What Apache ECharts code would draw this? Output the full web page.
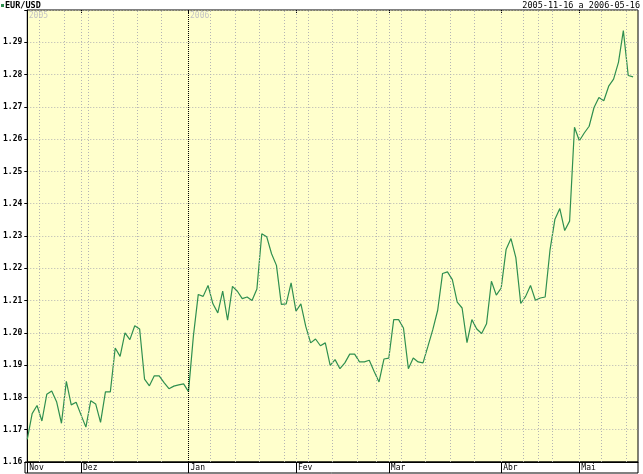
<!DOCTYPE html>
<html><head><meta charset="utf-8">
<script src="https://cdn.jsdelivr.net/npm/echarts@6/dist/echarts.min.js"></script>
<style>html,body{margin:0;padding:0;background:#fff}#c{width:643px;height:474px}</style>
</head><body><div id="c"></div>
<script>
const seriesName = 'EUR/USD';
const rangeText = '2005-11-16 a 2006-05-16';
const dates = [
'2005-11-16','2005-11-17','2005-11-18','2005-11-21','2005-11-22','2005-11-23','2005-11-24','2005-11-25','2005-11-28','2005-11-29','2005-11-30',
'2005-12-01','2005-12-02','2005-12-05','2005-12-06','2005-12-07','2005-12-08','2005-12-09','2005-12-12','2005-12-13','2005-12-14','2005-12-15','2005-12-16','2005-12-19','2005-12-20','2005-12-21','2005-12-22','2005-12-23','2005-12-26','2005-12-27','2005-12-28','2005-12-29','2005-12-30',
'2006-01-02','2006-01-03','2006-01-04','2006-01-05','2006-01-06','2006-01-09','2006-01-10','2006-01-11','2006-01-12','2006-01-13','2006-01-16','2006-01-17','2006-01-18','2006-01-19','2006-01-20','2006-01-23','2006-01-24','2006-01-25','2006-01-26','2006-01-27','2006-01-30','2006-01-31',
'2006-02-01','2006-02-02','2006-02-03','2006-02-06','2006-02-07','2006-02-08','2006-02-09','2006-02-10','2006-02-13','2006-02-14','2006-02-15','2006-02-16','2006-02-17','2006-02-21','2006-02-22','2006-02-23','2006-02-24','2006-02-27','2006-02-28',
'2006-03-01','2006-03-02','2006-03-03','2006-03-06','2006-03-07','2006-03-08','2006-03-09','2006-03-10','2006-03-13','2006-03-14','2006-03-15','2006-03-16','2006-03-17','2006-03-20','2006-03-21','2006-03-22','2006-03-23','2006-03-24','2006-03-27','2006-03-28','2006-03-29','2006-03-30','2006-03-31',
'2006-04-03','2006-04-04','2006-04-05','2006-04-06','2006-04-07','2006-04-10','2006-04-11','2006-04-12','2006-04-18','2006-04-19','2006-04-20','2006-04-24','2006-04-25','2006-04-26','2006-04-27','2006-04-28',
'2006-05-01','2006-05-02','2006-05-03','2006-05-04','2006-05-05','2006-05-08','2006-05-09','2006-05-10','2006-05-11','2006-05-12','2006-05-15','2006-05-16'
];
const rates = [
1.1670,1.1750,1.1775,1.1727,1.1810,1.1820,1.1787,1.1720,1.1850,1.1777,1.1785,
1.1746,1.1708,1.1790,1.1780,1.1723,1.1817,1.1817,1.1953,1.1927,1.2000,1.1979,1.2022,1.2012,1.1857,1.1836,1.1867,1.1867,1.1846,1.1827,1.1835,1.1839,1.1842,
1.1818,1.1990,1.2119,1.2113,1.2147,1.2090,1.2062,1.2129,1.2039,1.2144,1.2129,1.2106,1.2111,1.2100,1.2136,1.2307,1.2298,1.2245,1.2209,1.2088,1.2090,1.2155,
1.2067,1.2090,1.2020,1.1969,1.1981,1.1960,1.1969,1.1899,1.1917,1.1889,1.1907,1.1934,1.1934,1.1910,1.1910,1.1915,1.1880,1.1848,1.1919,
1.1922,1.2041,1.2041,1.2015,1.1889,1.1922,1.1910,1.1907,1.1958,1.2010,1.2070,1.2184,1.2189,1.2165,1.2095,1.2077,1.1970,1.2041,1.2012,1.1998,1.2028,1.2160,1.2117,
1.2139,1.2258,1.2292,1.2233,1.2091,1.2113,1.2147,1.2101,1.2108,1.2111,1.2258,1.2352,1.2385,1.2317,1.2346,1.2637,
1.2595,1.2619,1.2640,1.2698,1.2729,1.2719,1.2764,1.2786,1.2838,1.2936,1.2797,1.2793
];
const monthNames = {'11':'Nov','12':'Dez','01':'Jan','02':'Fev','03':'Mar','04':'Abr','05':'Mai'};
const yearLabels = ['2005','2006'];
const yMin = 1.16, yMax = 1.30, yStep = 0.01;

const monthStarts = [];
dates.forEach((d, i) => { if (i === 0 || d.slice(5, 7) !== dates[i - 1].slice(5, 7)) monthStarts.push(i); });
const yearStarts = [];
dates.forEach((d, i) => { if (i === 0 || d.slice(0, 4) !== dates[i - 1].slice(0, 4)) yearStarts.push(i); });
const dow = d => new Date(d + 'T00:00:00Z').getUTCDay();
const weekLines = [];
for (let i = 0; i < dates.length - 1; i++) {
  if (dow(dates[i + 1]) <= dow(dates[i]) && !monthStarts.includes(i + 1)) weekLines.push(i + 0.5);
}

const GREEN = '#2f8f4f';
const gridGray = {color: '#b4b4b4', width: 1, type: [1, 2]};
const yearLine = {color: '#000', width: 1, type: [1, 1]};
const mono = 'DejaVu Sans Mono';

const lineData = [
  ...weekLines.map(x => ({xAxis: x, lineStyle: gridGray})),
  ...monthStarts.filter(i => i > 0).map(i => ({xAxis: i, lineStyle: yearStarts.includes(i) ? yearLine : gridGray}))
];

const chart = echarts.init(document.getElementById('c'), null, {renderer: 'canvas'});
chart.setOption({
  animation: false,
  backgroundColor: '#fff',
  title: [
    {text: '{sq|}{t|' + seriesName + '}', left: 1, top: 1, padding: 0,
     textStyle: {rich: {sq: {width: 3, height: 3, backgroundColor: GREEN, padding: 0},
                        t: {fontFamily: mono, fontSize: 8.5, color: '#000', padding: [0, 0, 0, 1]}}}},
    {text: rangeText, right: 3, top: 1, padding: 0,
     textStyle: {fontFamily: mono, fontSize: 8.5, color: '#000', fontWeight: 'normal'}}
  ],
  grid: [
    {left: 25, right: 5, top: 10, bottom: 12, show: true, backgroundColor: '#ffffcc', borderColor: '#000', borderWidth: 1},
    {left: 25, right: 5, top: 462, height: 11, show: true, backgroundColor: '#fff', borderColor: '#000', borderWidth: 1}
  ],
  xAxis: [
    {type: 'value', gridIndex: 0, min: 0, max: dates.length, position: 'bottom',
     axisLine: {show: true, lineStyle: {color: '#000'}},
     axisTick: {show: true, customValues: monthStarts, length: 11, inside: false, lineStyle: {color: '#000'}},
     axisLabel: {show: true, customValues: monthStarts, formatter: v => monthNames[dates[Math.round(v)].slice(5, 7)],
                 align: 'left', verticalAlign: 'top', padding: [0, 0, 0, 2], margin: 2,
                 fontFamily: mono, fontSize: 8, color: '#000'},
     splitLine: {show: false}},
    {type: 'value', gridIndex: 0, min: 0, max: dates.length, position: 'top',
     axisLine: {show: false},
     axisTick: {show: true, customValues: monthStarts, length: 3, inside: true, lineStyle: {color: '#000'}},
     axisLabel: {show: false}, splitLine: {show: false}},
    {type: 'value', gridIndex: 1, min: 0, max: 1, show: false}
  ],
  yAxis: [
    {type: 'value', gridIndex: 0, min: yMin, max: yMax, interval: yStep,
     axisLine: {show: true, lineStyle: {color: '#000'}},
     axisTick: {show: true, length: 3, lineStyle: {color: '#000'}},
     axisLabel: {formatter: v => (v > yMax - yStep / 2 ? '' : v.toFixed(2)), margin: 5,
                 fontFamily: mono, fontSize: 8, fontWeight: 'bold', color: '#000'},
     splitLine: {show: true, lineStyle: gridGray}},
    {type: 'value', gridIndex: 1, min: 0, max: 1, show: false}
  ],
  series: [
    {type: 'line', xAxisIndex: 0, yAxisIndex: 0, z: 1, data: rates.map((v, i) => [i, v]),
     symbol: 'none', lineStyle: {opacity: 0}, silent: true,
     markLine: {silent: true, symbol: 'none', animation: false, label: {show: false}, data: lineData},
     markPoint: {silent: true, animation: false, symbol: 'rect', symbolSize: 1, itemStyle: {color: 'rgba(0,0,0,0)'},
       data: yearStarts.map((i, k) => ({coord: [i, yMax],
         label: {show: true, formatter: yearLabels[k], position: [2, 2], align: 'left', verticalAlign: 'top',
                 fontFamily: mono, fontSize: 8, color: '#c4c4c4'}}))}},
    {type: 'line', name: seriesName, xAxisIndex: 0, yAxisIndex: 0, z: 3, data: rates.map((v, i) => [i, v]),
     symbol: 'none', showSymbol: false, lineStyle: {color: GREEN, width: 1.2}}
  ]
});
</script></body></html>
